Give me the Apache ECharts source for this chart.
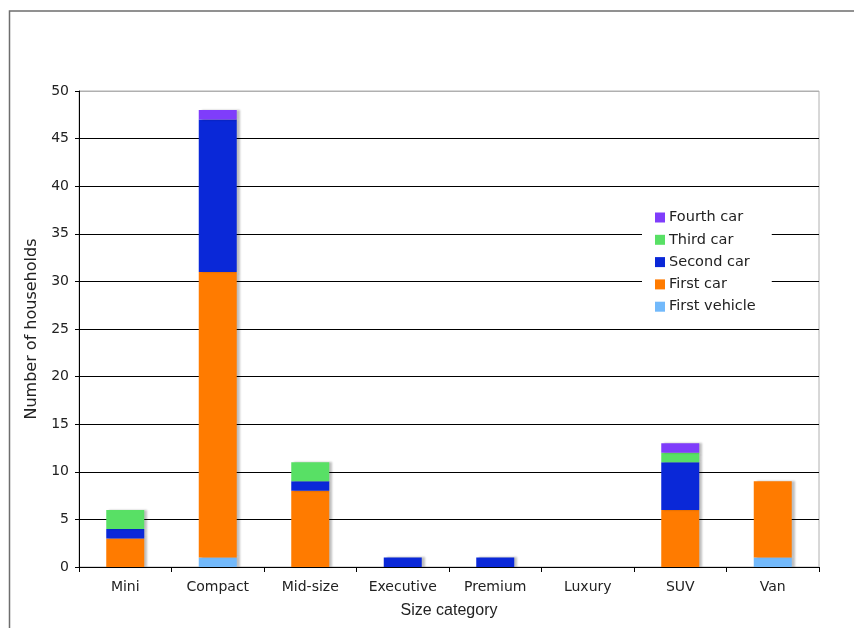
<!DOCTYPE html>
<html>
<head>
<meta charset="utf-8">
<script src="https://cdn.jsdelivr.net/npm/echarts@6/dist/echarts.min.js"></script>
<style>
  html, body { margin: 0; padding: 0; background: #fff; }
  #chart { width: 854px; height: 628px; }
</style>
</head>
<body>
<div id="chart"></div>
<script>
// categories and stacked series (bottom to top)
const categories = ['Mini', 'Compact', 'Mid-size', 'Executive', 'Premium', 'Luxury', 'SUV', 'Van'];
const firstVehicle = [0, 1, 0, 0, 0, 0, 0, 1];
const firstCar = [3, 30, 8, 0, 0, 0, 6, 8];
const secondCar = [1, 16, 1, 1, 1, 0, 5, 0];
const thirdCar = [2, 0, 2, 0, 0, 0, 1, 0];
const fourthCar = [0, 1, 0, 0, 0, 0, 1, 0];
const yTicks = [0, 5, 10, 15, 20, 25, 30, 35, 40, 45, 50];

const font = 'DejaVu Sans';
const seriesDefs = [
  { name: 'First vehicle', data: firstVehicle, color: '#72b9fb' },
  { name: 'First car', data: firstCar, color: '#ff7b00' },
  { name: 'Second car', data: secondCar, color: '#0a28d8' },
  { name: 'Third car', data: thirdCar, color: '#58e065' },
  { name: 'Fourth car', data: fourthCar, color: '#7f3dfb' }
];

// split lines: black, except the top one which is the light frame
const splitColors = yTicks.map((v, i) => (i === yTicks.length - 1 ? '#b0b0b0' : '#000'));

const chart = echarts.init(document.getElementById('chart'));
chart.setOption({
  animation: false,
  backgroundColor: '#fff',
  graphic: [
    {
      type: 'rect',
      shape: { x: 9.5, y: 11, width: 860, height: 640 },
      style: { fill: 'none', stroke: '#6e6e6e', lineWidth: 1.5 },
      z: -1
    }
  ],
  grid: {
    left: 79,
    right: 35,
    top: 91,
    bottom: 61,
    show: true,
    borderColor: '#b0b0b0',
    borderWidth: 1
  },
  legend: {
    orient: 'vertical',
    left: 642,
    top: 207,
    itemWidth: 10,
    itemHeight: 10,
    itemGap: 7.3,
    padding: [3, 16, 4, 13],
    backgroundColor: '#fff',
    icon: 'rect',
    data: ['Fourth car', 'Third car', 'Second car', 'First car', 'First vehicle'],
    textStyle: { fontFamily: font, fontSize: 14.5, lineHeight: 14.3, color: '#222', padding: [0, 0, 0, -1] }
  },
  xAxis: {
    type: 'category',
    data: categories,
    name: 'Size category',
    nameLocation: 'middle',
    nameGap: 36,
    nameTextStyle: { fontFamily: 'Liberation Sans', fontSize: 16, color: '#222' },
    axisLine: { lineStyle: { color: '#000', width: 1 } },
    axisTick: { show: true, length: 5, lineStyle: { color: '#000' } },
    axisLabel: { fontFamily: font, fontSize: 14, color: '#222', margin: 13 }
  },
  yAxis: {
    type: 'value',
    min: 0,
    max: 50,
    interval: 5,
    name: 'Number of households',
    nameLocation: 'middle',
    nameGap: 37,
    nameTextStyle: { fontFamily: font, fontSize: 16, color: '#222' },
    axisLine: { show: true, lineStyle: { color: '#000', width: 1 } },
    axisTick: { show: true, length: 4, lineStyle: { color: '#000' } },
    axisLabel: { fontFamily: font, fontSize: 14, color: '#222', margin: 10 },
    splitLine: { show: true, lineStyle: { color: splitColors, width: 1 } }
  },
  series: seriesDefs.map(s => ({
    name: s.name,
    type: 'bar',
    stack: 'cars',
    data: s.data,
    barWidth: 38,
    itemStyle: {
      color: s.color,
      shadowColor: 'rgba(0,0,0,0.25)',
      shadowBlur: 2,
      shadowOffsetX: 3,
      shadowOffsetY: 0
    }
  }))
});
</script>
</body>
</html>
